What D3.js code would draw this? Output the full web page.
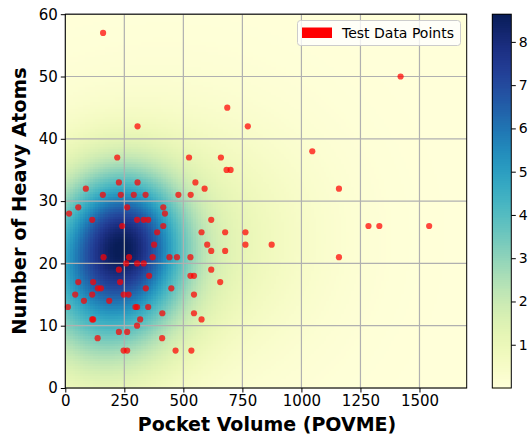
<!DOCTYPE html>
<html><head><meta charset="utf-8">
<script src="https://cdn.jsdelivr.net/npm/d3@7"></script>
<style>
body{margin:0;background:#fff}
svg{display:block}
text{font-family:"DejaVu Sans",sans-serif;fill:#000}
</style>
</head><body>
<svg id="chart" width="531" height="436"></svg>
<script>
// ---- data ----
const pocketVolume = [160,686,306,773,220,524,659,683,700,227,306,551,87,590,159,235,290,340,479,531,
  16,55,262,415,422,114,304,332,351,618,241,415,389,577,677,763,376,601,763,618,677,162,270,370,441,473,530,
  258,304,332,227,618,355,530,545,55,118,232,656,138,151,341,449,42,114,247,268,545,79,186,11,297,304,351,
  411,545,114,118,317,577,304,227,262,137,410,247,262,467,534,1420,1046,1159,1284,1330,1541,874,1159];
const heavyAtoms = [57,45,42,42,37,37,37,35,35,33,33,33,32,32,31,31,31,31,31,31,
  28,29,29,29,28,27,27,27,27,27,26,26,25,25,25,25,23,23,23,22,22,21,21,21,21,21,21,
  20,20,20,19,19,18,18,18,17,17,17,17,16,16,16,16,15,15,15,15,15,14,14,13,13,13,13,
  12,12,11,11,11,11,10,9,9,8,8,6,6,6,6,50,38,32,26,26,26,23,21];
// density background: blob components
const blobCenterX = [260, 150, 450];
const blobCenterY = [24, 18, 24];
const blobSpreadX = [150, 230, 380];
const blobSpreadY = [7, 10.5, 13];
const blobHeight  = [4.0, 4.3, 1.4];
const xTickValues = [0,250,500,750,1000,1250,1500];
const yTickValues = [0,10,20,30,40,50,60];
const colorbarTicks = [1,2,3,4,5,6,7,8];
const xDomain = [0,1700];
const yDomain = [0,60];
const densityTop = 8.64;
const legendLabel = "Test Data Points";
const xLabel = "Pocket Volume (POVME)";
const yLabel = "Number of Heavy Atoms";

// ---- layout ----
const plot = {left:65.3, right:466.7, top:14.2, bottom:388};
const cbar = {left:492.3, right:511.3, top:14.2, bottom:388};

const svg = d3.select("#chart");
const x = d3.scaleLinear().domain(xDomain).range([plot.left, plot.right]);
const y = d3.scaleLinear().domain(yDomain).range([plot.bottom, plot.top]);

function density(px, py){
  let s = 0;
  for (let k=0;k<blobCenterX.length;k++){
    const dx=(px-blobCenterX[k])/blobSpreadX[k], dy=(py-blobCenterY[k])/blobSpreadY[k];
    s += blobHeight[k]*Math.exp(-0.5*(dx*dx+dy*dy));
  }
  return s;
}
const nx = 160, ny = 150;
const dxStep = (xDomain[1]-xDomain[0])/nx, dyStep = (yDomain[1]-yDomain[0])/ny;
const cells = [];
for (let j=0;j<ny;j++) for (let i=0;i<nx;i++){
  const x0 = xDomain[0]+i*dxStep, y0 = yDomain[0]+j*dyStep;
  cells.push({x0, y0, v:density(x0+dxStep/2, y0+dyStep/2)});
}
const color = d3.scaleSequential(d3.interpolateYlGnBu).domain([0, densityTop]);

svg.append("g").selectAll("rect").data(cells).join("rect")
  .attr("x", d=>x(d.x0)).attr("y", d=>y(d.y0+dyStep))
  .attr("width", x(dxStep)-x(0)+0.6).attr("height", y(0)-y(dyStep)+0.6)
  .attr("fill", d=>color(d.v)).attr("shape-rendering","crispEdges");

// ---- grid ----
const grid = svg.append("g").attr("stroke","#b0b0b0").attr("stroke-width",1.2);
grid.selectAll(".gx").data(xTickValues).join("line")
  .attr("x1",d=>x(d)).attr("x2",d=>x(d)).attr("y1",plot.top).attr("y2",plot.bottom);
grid.selectAll(".gy").data(yTickValues).join("line")
  .attr("y1",d=>y(d)).attr("y2",d=>y(d)).attr("x1",plot.left).attr("x2",plot.right);

// ---- points ----
svg.append("g").selectAll("circle").data(d3.range(pocketVolume.length)).join("circle")
  .attr("cx", i=>x(pocketVolume[i])).attr("cy", i=>y(heavyAtoms[i]))
  .attr("r", 3.1).attr("fill", "#ff0000").attr("fill-opacity", 0.72);

// ---- frame ----
svg.append("rect").attr("x",plot.left).attr("y",plot.top)
  .attr("width",plot.right-plot.left).attr("height",plot.bottom-plot.top)
  .attr("fill","none").attr("stroke","#000").attr("stroke-width",1);

// ---- axes ----
const xAxis = svg.append("g").attr("transform",`translate(0,${plot.bottom})`)
  .call(d3.axisBottom(x).tickValues(xTickValues).tickSize(4.5).tickPadding(3).tickFormat(d3.format("d")));
const yAxis = svg.append("g").attr("transform",`translate(${plot.left},0)`)
  .call(d3.axisLeft(y).tickValues(yTickValues).tickSize(4.5).tickPadding(3).tickFormat(d3.format("d")));
[xAxis,yAxis].forEach(a=>{
  a.select(".domain").remove();
  a.selectAll("text").attr("font-family","DejaVu Sans").attr("font-size",15).attr("fill","#000");
  a.selectAll("line").attr("stroke","#000");
});

svg.append("text").attr("x",(plot.left+plot.right)/2 + 1).attr("y",431)
  .attr("text-anchor","middle").attr("font-size",19).attr("font-weight","bold").text(xLabel);
svg.append("text").attr("transform",`translate(26,${(plot.top+plot.bottom)/2}) rotate(-90)`)
  .attr("text-anchor","middle").attr("font-size",19.5).attr("font-weight","bold").text(yLabel);

// ---- legend ----
const lg = svg.append("g");
lg.append("rect").attr("x",297.5).attr("y",20.5).attr("width",163).attr("height",25).attr("rx",3)
  .attr("fill","#fff").attr("fill-opacity",0.8).attr("stroke","#cccccc");
lg.append("rect").attr("x",302).attr("y",27.5).attr("width",30).attr("height",10.5).attr("fill","#ff0000");
lg.append("text").attr("x",342).attr("y",38).attr("font-size",14).text(legendLabel);

// ---- colour bar ----
const cy = d3.scaleLinear().domain([0,densityTop]).range([cbar.bottom, cbar.top]);
const steps = d3.range(0, 200);
const stepV = densityTop/200;
svg.append("g").selectAll("rect").data(steps).join("rect")
  .attr("x",cbar.left).attr("width",cbar.right-cbar.left)
  .attr("y",d=>cy((d+1)*stepV)).attr("height",cy(0)-cy(stepV)+0.5)
  .attr("fill",d=>color((d+0.5)*stepV)).attr("shape-rendering","crispEdges");
svg.append("rect").attr("x",cbar.left).attr("y",cbar.top).attr("width",cbar.right-cbar.left)
  .attr("height",cbar.bottom-cbar.top).attr("fill","none").attr("stroke","#000").attr("stroke-width",1);
const cAxis = svg.append("g").attr("transform",`translate(${cbar.right},0)`)
  .call(d3.axisRight(cy).tickValues(colorbarTicks).tickSize(4.5).tickPadding(3).tickFormat(d3.format("d")));
cAxis.select(".domain").remove();
cAxis.selectAll("text").attr("font-family","DejaVu Sans").attr("font-size",14).attr("fill","#000");
cAxis.selectAll("line").attr("stroke","#000");
</script>
</body></html>
